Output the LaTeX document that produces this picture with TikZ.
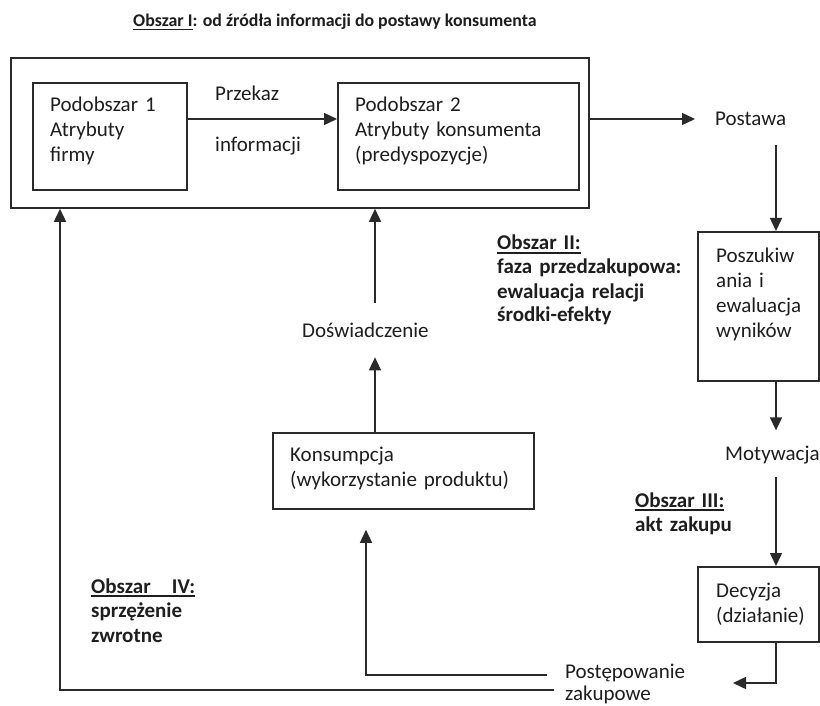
\documentclass[tikz,border=0pt]{standalone}
\usepackage{fontspec}
\setmainfont{Carlito}
\usetikzlibrary{arrows.meta}
\newsavebox{\ulbox}
\newcommand{\ulx}[1]{\sbox{\ulbox}{#1}\rlap{\rule[-3.5pt]{\wd\ulbox}{1.5pt}}\usebox{\ulbox}}
\definecolor{ink}{HTML}{1E1E1E}
\definecolor{ln}{HTML}{2A2A2A}
\newcommand{\mainfnt}{\fontsize{21}{25}\selectfont}
\newcommand{\titlefnt}{\fontsize{17.85}{22}\selectfont\bfseries}
\tikzset{
  boxed/.style={draw=ln, line width=1.8pt, anchor=north west, inner sep=0pt},
  lbl/.style={inner sep=0pt, anchor=base west, font=\mainfnt, text=ink},
  mlbl/.style={lbl, align=left, text width=#1},
  arr/.style={draw=ln, line width=1.5pt, -{Triangle[length=13pt,width=12pt]}},
}
\begin{document}
\begin{tikzpicture}[x=1pt,y=-1pt]
\useasboundingbox (0,0) rectangle (820,706);
\fill[white] (0,0) rectangle (820,706);
% helper coordinates
\coordinate (ay) at (0,119);
\coordinate (vx) at (776,0);
\coordinate (kx) at (375,0);
\coordinate (kx2) at (366,0);
\coordinate (fx) at (60,0);
% title
\node[lbl, font=\titlefnt] (title) at (133,27) {\ulx{Obszar I}: od źródła informacji do postawy konsumenta};
% boxes
\node[boxed, minimum width=578pt, minimum height=150pt] (outer) at (10,57) {};
\node[boxed, minimum width=154pt, minimum height=107pt] (b1) at (32,82) {};
\node[boxed, minimum width=241pt, minimum height=107pt] (b2) at (337,82) {};
\node[boxed, minimum width=121pt, minimum height=149pt] (posz) at (697,231) {};
\node[boxed, minimum width=121pt, minimum height=75pt] (dec) at (697,566) {};
\node[boxed, minimum width=261pt, minimum height=76pt] (kons) at (272,432) {};
% texts
\node[mlbl=130pt] (t1) at (50,112) {Podobszar 1\\Atrybuty\\firmy};
\node[mlbl=220pt] (t2) at (355,112) {Podobszar 2\\Atrybuty konsumenta\\(predyspozycje)};
\node[lbl] (przekaz) at (215,101) {Przekaz};
\node[lbl] (inform) at (215,152) {informacji};
\node[lbl] (postawa) at (715,126) {Postawa};
\node[mlbl=200pt, font=\fontsize{21}{24}\selectfont\bfseries] (o2) at (497,250) {\ulx{Obszar II:}\\faza przedzakupowa:\\ewaluacja relacji\\środki-efekty};
\node[mlbl=100pt] (tposz) at (716,262) {Poszukiw\\ania i\\ewaluacja\\wyników};
\node[lbl] (motyw) at (725,460) {Motywacja};
\node[mlbl=150pt, font=\fontsize{21}{24}\selectfont\bfseries] (o3) at (635,507) {\ulx{Obszar III:}\\akt zakupu};
\node[mlbl=100pt] (tdec) at (716,597) {Decyzja\\(działanie)};
\node[mlbl=250pt] (tkons) at (290,461) {Konsumpcja\\(wykorzystanie produktu)};
\node[lbl] (dosw) at (302,337) {Doświadczenie};
\node[mlbl=150pt, font=\fontsize{21}{24.5}\selectfont\bfseries] (o4) at (91,593) {\ulx{\makebox[104pt][s]{Obszar\hfill IV:}}\\sprzężenie\\zwrotne};
\node[mlbl=150pt, font=\fontsize{21}{22}\selectfont] (post) at (565,678) {Postępowanie\\zakupowe};
% connector ends
\coordinate (pe) at (733,683);
\coordinate (s1) at (547,675);
\coordinate (s2) at (554,690);
% arrows
\draw[arr] (b1.east |- ay) -- (b2.west |- ay);
\draw[arr, shorten >=20pt] (outer.east |- ay) -- (postawa.west |- ay);
\draw[arr, shorten <=19pt] (vx |- postawa.south) -- (vx |- posz.north);
\draw[arr, shorten >=15pt] (vx |- posz.south) -- (vx |- motyw.north);
\draw[arr, shorten <=13pt] (vx |- motyw.south) -- (vx |- dec.north);
\draw[arr] (vx |- dec.south) |- (pe);
\draw[arr, shorten >=20pt] (kx |- kons.north) -- (kx |- dosw.south);
\draw[arr, shorten <=19pt] (kx |- dosw.north) -- (kx |- outer.south);
\draw[arr, shorten >=20pt] (s1) -| (kx2 |- kons.south);
\draw[arr] (s2) -| (fx |- outer.south);
\end{tikzpicture}
\end{document}
